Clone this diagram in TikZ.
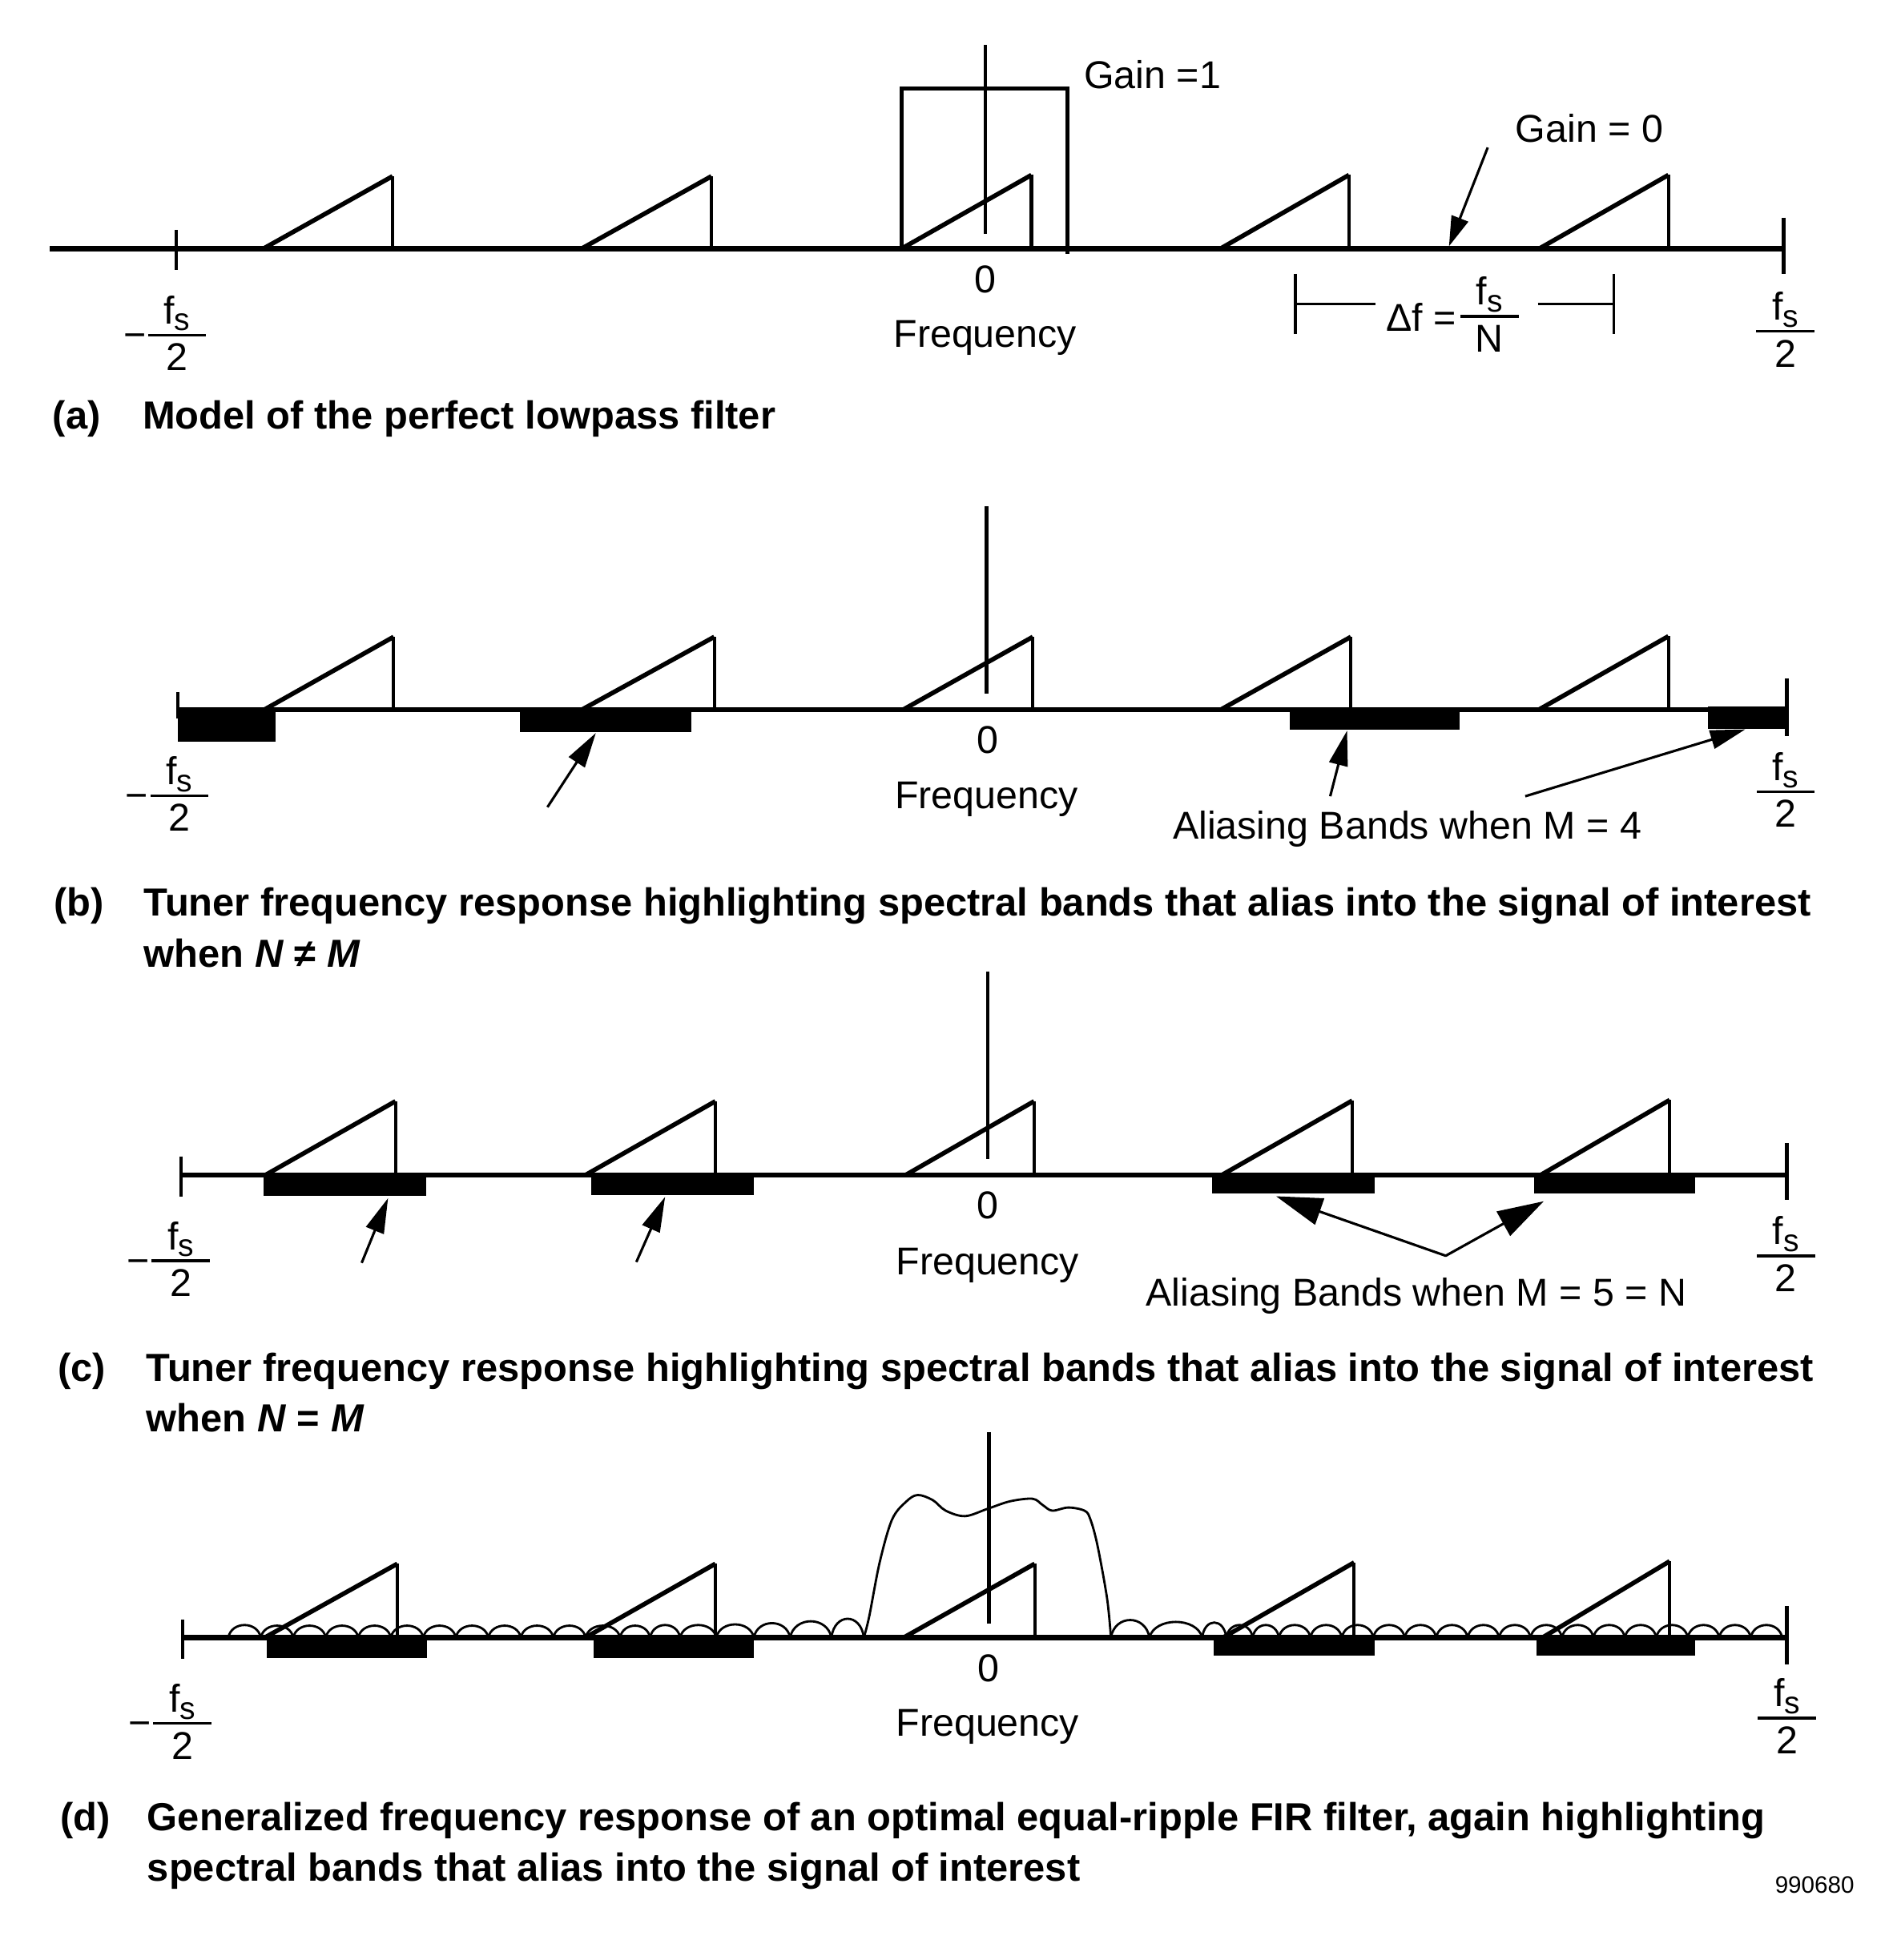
\documentclass[tikz,border=0pt]{standalone}
\usepackage{fontspec}
\setmainfont{Liberation Sans}
\usetikzlibrary{arrows.meta}

\newcommand{\fsfrac}[4]{%
  \node[lbl, anchor=base] (#1num) at (#2,#3-9) {f\raisebox{-5.5pt}{\fontsize{25}{25}\selectfont s}};
  \node[lbl, anchor=base] (#1den) at (#2,#3+28.5) {#4};
  \draw[fracbar] ({#2-23.2},#3) -- ({#2+23.2},#3);
}
\newcommand{\negfsfrac}[3]{%
  \fsfrac{#1}{#2}{#3}{2}
  \node[lbl, anchor=base east] (#1minus) at ({#2-24.5},{#3+10.3}) {−};
}
\newcommand{\saw}[4]{%
  \draw[sawdiag] (#1,#4) -- (#2,#3);
  \draw[sawvert] (#2,#3) -- (#2,#4);
}
\newcommand{\arch}[4]{%
  \draw[ripple] (#1,#4) .. controls ({#1+0.1*(#2-#1)},{#4-1.333*#3}) and ({#2-0.1*(#2-#1)},{#4-1.333*#3}) .. (#2,#4);
}

\begin{document}
\begin{tikzpicture}[x=1pt,y=-1pt,
  axisline/.style={line width=4pt},
  sawdiag/.style={line width=3.6pt},
  sawvert/.style={line width=2.6pt},
  centerline/.style={line width=2.8pt},
  tickline/.style={line width=2.2pt},
  endtick/.style={line width=3.2pt},
  band/.style={fill=black},
  ripple/.style={line width=1.8pt},
  ptr/.style={line width=2pt, -{Triangle[length=28pt,width=15pt]}},
  smallptr/.style={line width=2pt, -{Triangle[length=24pt,width=14pt]}},
  bigptr/.style={line width=2pt, line cap=round, -{Triangle[length=37pt,width=22pt]}},
  lbl/.style={font=\fontsize{31}{37}\selectfont, inner sep=0pt},
  captxt/.style={font=\bfseries\fontsize{31.3}{40}\selectfont, inner sep=0pt, anchor=base west},
  fracbar/.style={line width=2.2pt}
]
\useasboundingbox[fill=white] (0,0) rectangle (1514,1568);

% ================= (a) =================
\draw[axisline, line width=4.4pt] (40,199) -- (1426.5,199);
\draw[endtick] (1426.5,174) -- (1426.5,219);
\draw[tickline] (141,184) -- (141,216);
\saw{210.5}{314}{141}{199}
\saw{465}{569}{141}{199}
\saw{721}{825}{140}{199}
\saw{976}{1079}{140}{199}
\saw{1231}{1334.5}{140}{199}
\draw[centerline] (788,36) -- (788,187);
\draw[line width=3pt] (721,199) -- (721,71) -- (854,71) -- (854,203);
\node[lbl, anchor=base west] (gain1) at (867,71) {Gain =1};
\node[lbl, anchor=base west] (gain0) at (1212,114) {Gain = 0};
\coordinate (g0tail) at (1190,118);
\coordinate (g0tip) at (1159,197);
\draw[smallptr] (g0tail) -- (g0tip);
\node[lbl, anchor=base] (zeroa) at (788,234) {0};
\node[lbl, anchor=base] (freqa) at (788,278) {Frequency};
\negfsfrac{fla}{141.6}{268}
\fsfrac{fra}{1428}{265}{2}
\draw[tickline] (1036,219) -- (1036,267);
\draw[tickline] (1036,243) -- (1100,243);
\draw[tickline] (1291,219) -- (1291,267);
\draw[tickline] (1230,243) -- (1291,243);
\node[lbl, anchor=base east] (dfa) at (1165,265) {Δf =};
\fsfrac{dfn}{1191.5}{253}{N}
\node[captxt] (capa1) at (42,343) {(a)};
\node[captxt] (capa2) at (114,343) {Model of the perfect lowpass filter};

% ================= (b) =================
\draw[tickline] (142.2,553.6) -- (142.2,575);
\draw[axisline] (142.2,567.5) -- (1429,567.5);
\draw[endtick] (1429,543) -- (1429,589);
\saw{211.8}{314.8}{509.5}{567.5}
\saw{465.8}{571.3}{509.5}{567.5}
\saw{722.8}{826.1}{509.5}{567.5}
\saw{976.8}{1080.5}{509.5}{567.5}
\saw{1231.2}{1334.5}{509}{567.5}
\draw[centerline] (789,405) -- (789,555);
\fill[band] (142.2,567.5) rectangle (220.7,593.4);
\fill[band] (415.8,567.5) rectangle (553.1,585.8);
\fill[band] (1031.5,567) rectangle (1167.8,583.7);
\fill[band] (1366.4,565) rectangle (1428,583.2);
\coordinate (b1tail) at (437.9,645.7);
\coordinate (b1tip) at (476.6,586.4);
\coordinate (b2tail) at (1064,637);
\coordinate (b2tip) at (1077.5,584.5);
\coordinate (b3tail) at (1220,637);
\coordinate (b3tip) at (1396,583.5);
\draw[ptr] (b1tail) -- (b1tip);
\draw[ptr] (b2tail) -- (b2tip);
\draw[ptr] (b3tail) -- (b3tip);
\node[lbl, anchor=base] (zerob) at (790,602.5) {0};
\node[lbl, anchor=base] (freqb) at (789,647) {Frequency};
\node[lbl, anchor=base west] (aliasb) at (938,671.4) {Aliasing Bands when M = 4};
\negfsfrac{flb}{143.4}{636.6}
\fsfrac{frb}{1428.3}{633.4}{2}
\node[captxt] (capb1) at (43,733) {(b)};
\node[captxt] (capb2) at (115,733) {Tuner frequency response highlighting spectral bands that alias into the signal of interest};
\node[captxt] (capb3) at (115,773.5) {when \textit{N} ≠ \textit{M}};

% ================= (c) =================
\draw[axisline] (144.7,940) -- (1429,940);
\draw[tickline] (144.7,925) -- (144.7,957.6);
\draw[endtick] (1429,914.7) -- (1429,959.8);
\saw{212.3}{316.3}{881}{940}
\saw{468.3}{572.2}{881}{940}
\saw{724.4}{827.1}{881}{940}
\saw{977.3}{1081.6}{880.5}{940}
\saw{1232.3}{1335.5}{880}{940}
\draw[centerline] (790,777) -- (790,927);
\fill[band] (210.8,940) rectangle (340.9,956.6);
\fill[band] (473,940) rectangle (603,956);
\fill[band] (969.6,939) rectangle (1099.6,954.5);
\fill[band] (1227,939) rectangle (1356,954.5);
\coordinate (c1tail) at (289.3,1010.3);
\coordinate (c1tip) at (310.4,958.5);
\coordinate (c2tail) at (509,1009.6);
\coordinate (c2tip) at (532,957.5);
\coordinate (cjoin) at (1156.4,1004.6);
\coordinate (c3tip) at (1020.7,957);
\coordinate (c4tip) at (1234.8,961);
\draw[ptr] (c1tail) -- (c1tip);
\draw[ptr] (c2tail) -- (c2tip);
\draw[bigptr] (cjoin) -- (c3tip);
\draw[bigptr] (cjoin) -- (c4tip);
\node[lbl, anchor=base] (zeroc) at (790,975) {0};
\node[lbl, anchor=base] (freqc) at (790,1019.5) {Frequency};
\node[lbl, anchor=base west] (aliasc) at (916.4,1044.6) {Aliasing Bands when M = 5 = N};
\negfsfrac{flc}{144.5}{1008.7}
\fsfrac{frc}{1428.5}{1004.6}{2}
\node[captxt] (capc1) at (46,1105) {(c)};
\node[captxt] (capc2) at (117,1105) {Tuner frequency response highlighting spectral bands that alias into the signal of interest};
\node[captxt] (capc3) at (117,1145.5) {when \textit{N} = \textit{M}};

% ================= (d) =================
\draw[axisline] (146.1,1310) -- (1429,1310);
\draw[tickline] (146.1,1295.6) -- (146.1,1327);
\draw[endtick] (1429,1285) -- (1429,1331.5);
\saw{211.8}{317.8}{1251}{1310}
\saw{468.3}{572.2}{1251}{1310}
\saw{722.9}{827.6}{1251}{1310}
\saw{978.3}{1083.1}{1250}{1310}
\saw{1233.8}{1335.5}{1249}{1310}
\draw[centerline] (791,1145.6) -- (791,1298.6);
\fill[band] (213.3,1310) rectangle (341.8,1326.7);
\fill[band] (474.7,1310) rectangle (603.1,1326.7);
\fill[band] (970.6,1310) rectangle (1099.6,1324.4);
\fill[band] (1228.7,1310) rectangle (1356.2,1324.4);
% passband response
\draw[ripple] plot[smooth, tension=0.55] coordinates {
  (691,1310) (695.3,1293) (703.6,1250) (713.5,1215.7) (724.7,1201.4)
  (734,1196) (746,1200) (756.4,1208.5) (771.9,1212.9) (790,1207)
  (808,1201) (826,1199) (834,1204) (841.6,1208.5) (854.5,1206)
  (867.4,1208.5) (872,1215) (877.7,1235.7) (885.5,1278.6) (888.6,1310)};
% stopband ripples, left
\foreach \a/\b/\h in {182.6/208.6/10, 208.6/234.6/9.5, 234.6/260.6/9.5, 260.6/286.6/9.5,
  286.6/312.6/9.5, 312.6/338.6/9.5, 338.6/364.6/9.5, 364.6/390.6/9.5, 390.6/416.6/9.5,
  416.6/442.6/9.5, 442.6/468.4/9.5, 468.4/496/9.5, 496/520/9.5, 520/544/10,
  544/573/10, 573/603/10.5, 603/632/11.5, 632/665/13, 665/691/15}
  {\arch{\a}{\b}{\h}{1310}}
% stopband ripples, right
\foreach \a/\b/\h in {888.6/919.4/14, 919.4/961.6/12.5, 961.6/980.9/12,
  980.9/1002/10, 1002/1023/10}
  {\arch{\a}{\b}{\h}{1310}}
\foreach \i in {0,...,15}
  {\pgfmathsetmacro\aa{1023+25.156*\i}
   \pgfmathsetmacro\bb{1023+25.156*(\i+1)}
   \arch{\aa}{\bb}{10}{1310}}
\node[lbl, anchor=base] (zerod) at (791,1345) {0};
\node[lbl, anchor=base] (freqd) at (790,1389) {Frequency};
\negfsfrac{fld}{145.8}{1378.7}
\fsfrac{frd}{1429.3}{1374.4}{2}
\node[captxt] (capd1) at (48,1464.5) {(d)};
\node[captxt] (capd2) at (117.7,1464.5) {Generalized frequency response of an optimal equal-ripple FIR filter, again highlighting};
\node[captxt] (capd3) at (117.7,1504.6) {spectral bands that alias into the signal of interest};
\node[inner sep=0pt, anchor=base west, font=\fontsize{19}{22}\selectfont] (figno) at (1419.6,1514.6) {990680};
\end{tikzpicture}
\end{document}
